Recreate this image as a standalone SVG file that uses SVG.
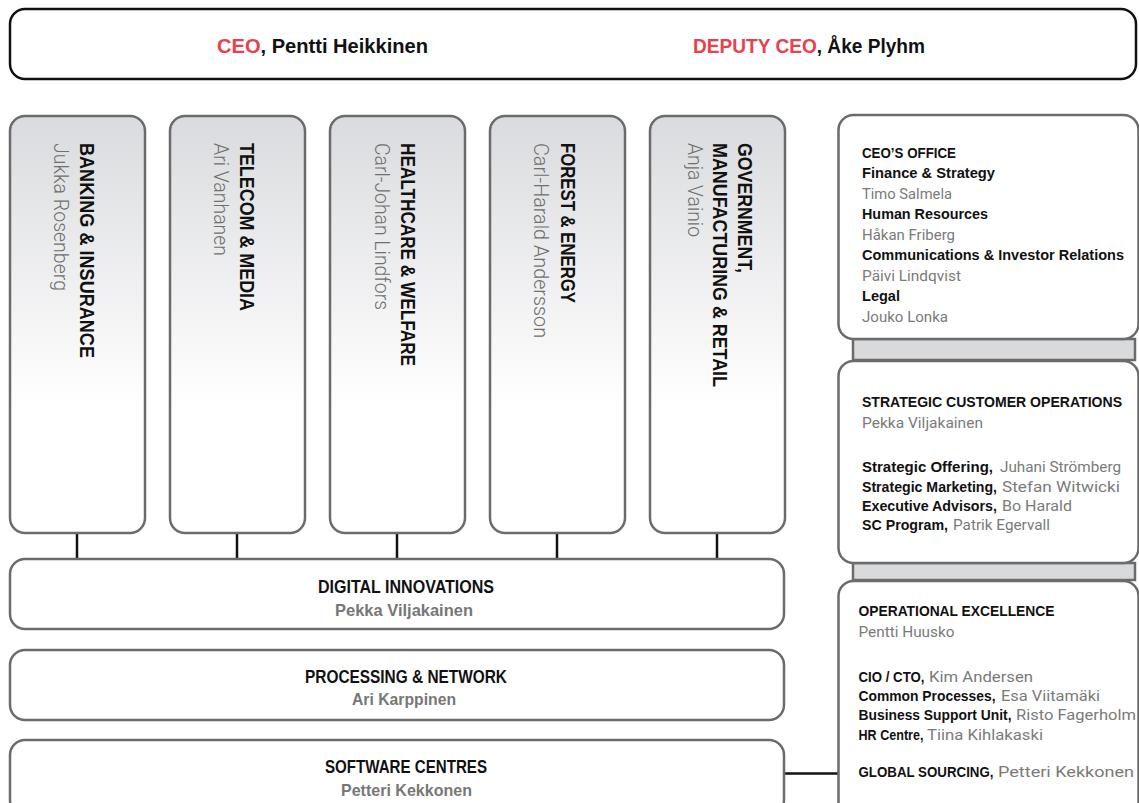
<svg xmlns="http://www.w3.org/2000/svg" width="1139" height="803" viewBox="0 0 1139 803">
<defs>
<linearGradient id="colGrad" x1="0" y1="0" x2="0" y2="1">
<stop offset="0" stop-color="#dadbde"/>
<stop offset="0.7" stop-color="#ffffff"/>
<stop offset="1" stop-color="#ffffff"/>
</linearGradient>
<style>
.top{fill:#fff;stroke:#111;stroke-width:2.5}
.box{fill:#fff;stroke:#6b6b6b;stroke-width:2.5}
.col{fill:url(#colGrad);stroke:#6b6b6b;stroke-width:2.5}
.bar{fill:#d9dadc;stroke:#6b6b6b;stroke-width:2.5}
.conn{stroke:#111;stroke-width:2.5;fill:none}
.hb{font-family:"Liberation Sans Narrow","Liberation Sans",Arial,sans-serif;font-weight:bold;fill:#111}
.red{fill:#e8414b}
.t1{font-size:21px}
.vt{font-size:21px}
.vn{font-family:Roboto,"Liberation Sans",sans-serif;font-weight:300;font-size:19.5px;fill:#6f6f6f}
.mt{font-size:17.5px}
.mn{font-family:"Liberation Sans Narrow","Liberation Sans",Arial,sans-serif;font-weight:bold;font-size:16.5px;fill:#777}
.rt{font-size:15.5px}
.rn{font-family:Roboto,"Liberation Sans",sans-serif;font-weight:400;font-size:15px;fill:#7a7a7a}
</style>
</defs>

<g id="connectors">
<line class="conn" x1="77" y1="533" x2="77" y2="559"/>
<line class="conn" x1="237" y1="533" x2="237" y2="559"/>
<line class="conn" x1="397" y1="533" x2="397" y2="559"/>
<line class="conn" x1="557" y1="533" x2="557" y2="559"/>
<line class="conn" x1="717" y1="533" x2="717" y2="559"/>
<line class="conn" x1="784" y1="773.5" x2="839" y2="773.5"/>
<rect class="bar" x="853" y="339" width="282" height="21"/>
<rect class="bar" x="853" y="563" width="282" height="17"/>
</g>

<g id="ceo">
<rect class="top" x="10" y="9" width="1126" height="70" rx="15"/>
<text class="hb t1" x="217" y="53" textLength="211" lengthAdjust="spacingAndGlyphs"><tspan class="red">CEO</tspan>, Pentti Heikkinen</text>
<text class="hb t1" x="693" y="53" textLength="232" lengthAdjust="spacingAndGlyphs"><tspan class="red">DEPUTY CEO</tspan>, Åke Plyhm</text>
</g>

<g id="banking">
<rect class="col" x="10" y="116" width="135" height="417" rx="15"/>
<text class="hb vt" transform="translate(80,143) rotate(90)" textLength="215" lengthAdjust="spacingAndGlyphs">BANKING &amp; INSURANCE</text>
<text class="vn" transform="translate(53.5,143) rotate(90)" textLength="148" lengthAdjust="spacingAndGlyphs">Jukka Rosenberg</text>
</g>

<g id="telecom">
<rect class="col" x="170" y="116" width="135" height="417" rx="15"/>
<text class="hb vt" transform="translate(240,143) rotate(90)" textLength="168" lengthAdjust="spacingAndGlyphs">TELECOM &amp; MEDIA</text>
<text class="vn" transform="translate(213.5,143) rotate(90)" textLength="113" lengthAdjust="spacingAndGlyphs">Ari Vanhanen</text>
</g>

<g id="healthcare">
<rect class="col" x="330" y="116" width="135" height="417" rx="15"/>
<text class="hb vt" transform="translate(401,143) rotate(90)" textLength="223" lengthAdjust="spacingAndGlyphs">HEALTHCARE &amp; WELFARE</text>
<text class="vn" transform="translate(374.5,143) rotate(90)" textLength="167" lengthAdjust="spacingAndGlyphs">Carl-Johan Lindfors</text>
</g>

<g id="forest">
<rect class="col" x="490" y="116" width="135" height="417" rx="15"/>
<text class="hb vt" transform="translate(561,143) rotate(90)" textLength="160" lengthAdjust="spacingAndGlyphs">FOREST &amp; ENERGY</text>
<text class="vn" transform="translate(533.5,143) rotate(90)" textLength="195" lengthAdjust="spacingAndGlyphs">Carl-Harald Andersson</text>
</g>

<g id="government">
<rect class="col" x="650" y="116" width="135" height="417" rx="15"/>
<text class="hb vt" transform="translate(738,143) rotate(90)" textLength="130" lengthAdjust="spacingAndGlyphs">GOVERNMENT,</text>
<text class="hb vt" transform="translate(713,143) rotate(90)" textLength="244" lengthAdjust="spacingAndGlyphs">MANUFACTURING &amp; RETAIL</text>
<text class="vn" transform="translate(687.5,143) rotate(90)" textLength="94" lengthAdjust="spacingAndGlyphs">Anja Vainio</text>
</g>

<g id="digital">
<rect class="box" x="10" y="559" width="774" height="70" rx="15"/>
<text class="hb mt" x="318" y="593" textLength="176" lengthAdjust="spacingAndGlyphs">DIGITAL INNOVATIONS</text>
<text class="mn" x="335" y="615.5" textLength="138" lengthAdjust="spacingAndGlyphs">Pekka Viljakainen</text>
</g>

<g id="processing">
<rect class="box" x="10" y="650" width="774" height="70" rx="15"/>
<text class="hb mt" x="305" y="682.5" textLength="202" lengthAdjust="spacingAndGlyphs">PROCESSING &amp; NETWORK</text>
<text class="mn" x="352" y="705" textLength="104" lengthAdjust="spacingAndGlyphs">Ari Karppinen</text>
</g>

<g id="software">
<rect class="box" x="10" y="740" width="774" height="75" rx="15"/>
<text class="hb mt" x="325" y="773" textLength="162" lengthAdjust="spacingAndGlyphs">SOFTWARE CENTRES</text>
<text class="mn" x="341" y="795.5" textLength="131" lengthAdjust="spacingAndGlyphs">Petteri Kekkonen</text>
</g>

<g id="ceo-office">
<rect class="box" x="838.5" y="115" width="300" height="224" rx="15"/>
<text class="hb rt" x="862" y="157.5" textLength="94" lengthAdjust="spacingAndGlyphs">CEO’S OFFICE</text>
<text class="hb rt" x="862" y="178" textLength="133" lengthAdjust="spacingAndGlyphs">Finance &amp; Strategy</text>
<text class="rn" x="862" y="198.5" textLength="90" lengthAdjust="spacingAndGlyphs">Timo Salmela</text>
<text class="hb rt" x="862" y="219" textLength="126" lengthAdjust="spacingAndGlyphs">Human Resources</text>
<text class="rn" x="862" y="239.5" textLength="93" lengthAdjust="spacingAndGlyphs">Håkan Friberg</text>
<text class="hb rt" x="862" y="260" textLength="262" lengthAdjust="spacingAndGlyphs">Communications &amp; Investor Relations</text>
<text class="rn" x="862" y="280.5" textLength="99" lengthAdjust="spacingAndGlyphs">Päivi Lindqvist</text>
<text class="hb rt" x="862" y="301" textLength="38" lengthAdjust="spacingAndGlyphs">Legal</text>
<text class="rn" x="862" y="321.5" textLength="86" lengthAdjust="spacingAndGlyphs">Jouko Lonka</text>
</g>

<g id="strategic">
<rect class="box" x="838.5" y="361" width="300" height="202" rx="15"/>
<text class="hb rt" x="862" y="407" textLength="260" lengthAdjust="spacingAndGlyphs">STRATEGIC CUSTOMER OPERATIONS</text>
<text class="rn" x="862" y="428" textLength="121" lengthAdjust="spacingAndGlyphs">Pekka Viljakainen</text>
<text class="hb rt" x="862" y="472" textLength="131" lengthAdjust="spacingAndGlyphs">Strategic Offering,</text>
<text class="rn" x="1000" y="472" textLength="121" lengthAdjust="spacingAndGlyphs">Juhani Strömberg</text>
<text class="hb rt" x="862" y="491.5" textLength="135" lengthAdjust="spacingAndGlyphs">Strategic Marketing,</text>
<text class="rn" x="1002" y="491.5" textLength="118" lengthAdjust="spacingAndGlyphs">Stefan Witwicki</text>
<text class="hb rt" x="862" y="510.5" textLength="135" lengthAdjust="spacingAndGlyphs">Executive Advisors,</text>
<text class="rn" x="1002" y="510.5" textLength="70" lengthAdjust="spacingAndGlyphs">Bo Harald</text>
<text class="hb rt" x="862" y="530" textLength="86" lengthAdjust="spacingAndGlyphs">SC Program,</text>
<text class="rn" x="953" y="530" textLength="97" lengthAdjust="spacingAndGlyphs">Patrik Egervall</text>
</g>

<g id="operational">
<rect class="box" x="838.5" y="581" width="300" height="240" rx="15"/>
<text class="hb rt" x="858.5" y="616" textLength="196" lengthAdjust="spacingAndGlyphs">OPERATIONAL EXCELLENCE</text>
<text class="rn" x="858.5" y="637" textLength="96" lengthAdjust="spacingAndGlyphs">Pentti Huusko</text>
<text class="hb rt" x="858.5" y="681.5" textLength="66" lengthAdjust="spacingAndGlyphs">CIO / CTO,</text>
<text class="rn" x="929" y="681.5" textLength="104" lengthAdjust="spacingAndGlyphs">Kim Andersen</text>
<text class="hb rt" x="858.5" y="700.5" textLength="137" lengthAdjust="spacingAndGlyphs">Common Processes,</text>
<text class="rn" x="1001" y="700.5" textLength="99" lengthAdjust="spacingAndGlyphs">Esa Viitamäki</text>
<text class="hb rt" x="858.5" y="720" textLength="153" lengthAdjust="spacingAndGlyphs">Business Support Unit,</text>
<text class="rn" x="1016" y="720" textLength="120" lengthAdjust="spacingAndGlyphs">Risto Fagerholm</text>
<text class="hb rt" x="858.5" y="739.5" textLength="65" lengthAdjust="spacingAndGlyphs">HR Centre,</text>
<text class="rn" x="927" y="739.5" textLength="116" lengthAdjust="spacingAndGlyphs">Tiina Kihlakaski</text>
<text class="hb rt" x="858.5" y="776.5" textLength="135" lengthAdjust="spacingAndGlyphs">GLOBAL SOURCING,</text>
<text class="rn" x="998" y="776.5" textLength="136" lengthAdjust="spacingAndGlyphs">Petteri Kekkonen</text>
</g>
</svg>
